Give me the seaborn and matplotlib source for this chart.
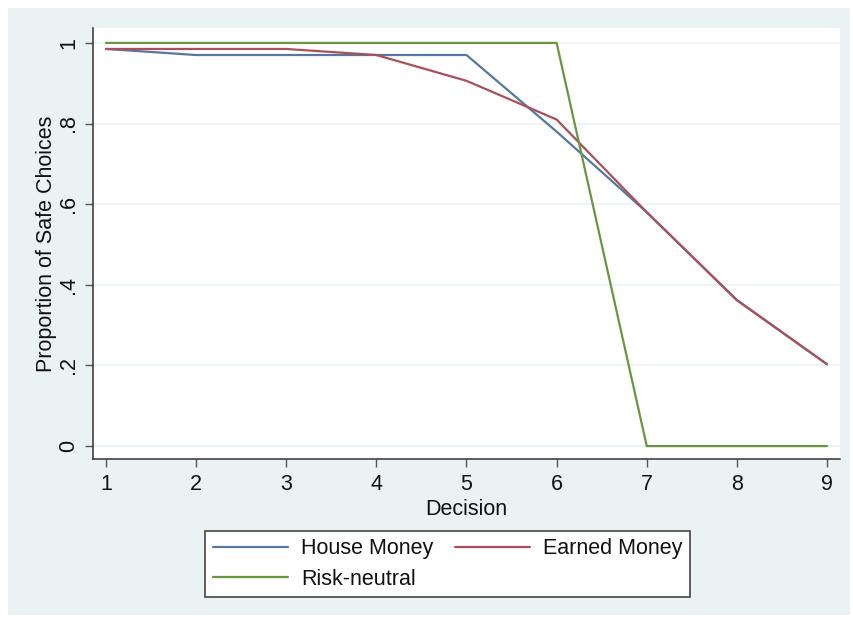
import matplotlib
matplotlib.use("Agg")
import matplotlib.pyplot as plt
import seaborn as sns
import pandas as pd
from matplotlib.patches import Rectangle
from matplotlib.lines import Line2D

decisions = [1, 2, 3, 4, 5, 6, 7, 8, 9]
house_money = [0.985, 0.970, 0.970, 0.970, 0.970, 0.780, 0.580, 0.362, 0.203]
earned_money = [0.985, 0.985, 0.985, 0.970, 0.906, 0.810, 0.580, 0.362, 0.203]
risk_neutral = [1, 1, 1, 1, 1, 1, 0, 0, 0]
series_names = ["House Money", "Earned Money", "Risk-neutral"]
y_ticks = [0, 0.2, 0.4, 0.6, 0.8, 1.0]
y_tick_labels = ["0", ".2", ".4", ".6", ".8", "1"]

df = pd.DataFrame({
    "Decision": decisions * 3,
    "value": house_money + earned_money + risk_neutral,
    "series": [series_names[0]] * 9 + [series_names[1]] * 9 + [series_names[2]] * 9,
})

sns.set_theme(style="white")
plt.rcParams["font.family"] = ["Liberation Sans", "DejaVu Sans"]
FS = 15.5

fig = plt.figure(figsize=(8.54, 6.26), dpi=100, facecolor="white")
bg = Rectangle((8 / 854, 1 - 615 / 626), (850 - 8) / 854, (615 - 8) / 626,
               transform=fig.transFigure, facecolor="#EAF2F3", edgecolor="none", zorder=-5)
fig.patches.append(bg)

ax = fig.add_axes([93 / 854, (626 - 459) / 626, (840 - 93) / 854, (459 - 28) / 626])
ax.set_facecolor("white")

palette = {"House Money": "#56789E", "Earned Money": "#A9505A", "Risk-neutral": "#6A9543"}
for y in y_ticks:
    ax.axhline(y, color="#EAF2F3", lw=1.2, zorder=0)

sns.lineplot(data=df, x="Decision", y="value", hue="series", palette=palette,
             hue_order=series_names, linewidth=1.6, ax=ax, legend=False, sort=False)

ax.set_xlim(0.856, 9.144)
ax.set_ylim(-0.032, 1.037)
ax.set_xticks(decisions)
ax.set_xticklabels([str(d) for d in decisions], fontsize=FS)
ax.set_yticks(y_ticks)
ax.set_yticklabels(y_tick_labels, fontsize=FS, rotation=90, va="center")
ax.tick_params(axis="both", direction="out", length=6, width=1, color="#555555",
               labelcolor="#111111")
ax.tick_params(axis="x", bottom=True, pad=4.5)
ax.tick_params(axis="y", left=True, pad=4)
for s in ["top", "right"]:
    ax.spines[s].set_visible(False)
for s in ["left", "bottom"]:
    ax.spines[s].set_color("#333333")
    ax.spines[s].set_linewidth(1.1)
ax.set_xlabel("Decision", fontsize=FS, labelpad=3, color="#111111")
ax.set_ylabel("Proportion of Safe Choices", fontsize=FS, labelpad=1, color="#111111")
ax.grid(False)

order = [series_names[0], series_names[2], series_names[1]]
handles = [Line2D([0], [0], color=palette[n], lw=1.6) for n in order]
leg = fig.legend(handles, order, ncol=2, loc="center",
                 bbox_to_anchor=((203 + 692) / 2 / 854, 1 - 564 / 626),
                 fontsize=FS, frameon=True, fancybox=False, handlelength=3.5,
                 columnspacing=1.0, handletextpad=0.6, borderpad=0.35, labelspacing=0.45,
                 borderaxespad=0)
for t in leg.get_texts():
    t.set_color("#111111")
leg.get_frame().set_edgecolor("#444444")
leg.get_frame().set_facecolor("white")
leg.get_frame().set_alpha(1)
leg.get_frame().set_linewidth(1.2)

fig.savefig("out.png", dpi=100, facecolor="white")
